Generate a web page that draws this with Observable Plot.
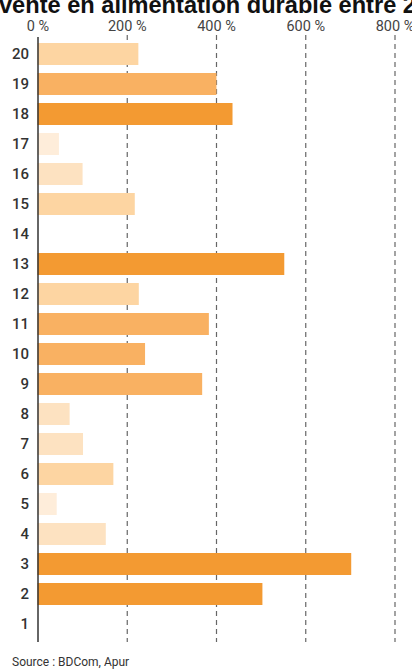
<!DOCTYPE html>
<html>
<head>
<meta charset="utf-8">
<script src="https://cdn.jsdelivr.net/npm/d3@7"></script>
<script src="https://cdn.jsdelivr.net/npm/@observablehq/plot@0.6"></script>
<style>
  html, body { margin: 0; padding: 0; background: #fff; width: 412px; height: 669px; overflow: hidden; position: relative; }
  #title { position: absolute; top: -5px; left: 0; white-space: nowrap; font-family: "Liberation Sans", Arial, sans-serif; font-weight: bold; font-size: 23.6px; color: #111; line-height: 20px; }
  #chart { position: absolute; top: 0; left: 0; }
  #source { position: absolute; top: 656px; left: 12px; font-family: Roboto, "Noto Sans", sans-serif; font-size: 12px; color: #333; line-height: 13px; }
</style>
</head>
<body>
<div id="title"><span id="tpre">Évolution du nombre de points de </span><span id="tmain">vente en alimentation durable entre 2010 et 2017</span></div>
<div id="chart"></div>
<div id="source">Source : BDCom, Apur</div>
<script>
// Arrondissements (1 to 20)
const arrondissements = ["1","2","3","4","5","6","7","8","9","10","11","12","13","14","15","16","17","18","19","20"];
// Évolution (%) per arrondissement
const evolution = [0, 504, 703, 153, 43, 170, 102, 72, 369, 241, 384, 227, 553, 0, 218, 101, 48, 437, 401, 226];
// Colour class per arrondissement (1 = palest … 5 = darkest)
const classe = [1, 5, 5, 2, 1, 3, 2, 2, 4, 4, 4, 3, 5, 1, 3, 2, 1, 5, 4, 3];
const classColors = ["#FEEDDA", "#FDE2C1", "#FDD5A2", "#F9B162", "#F39A32"];
const xTicks = [0, 200, 400, 600, 800];
const gridTicks = [200, 400, 600, 800];

const data = arrondissements.map((a, i) => ({arr: a, value: evolution[i], classe: classe[i]}));

const plot = Plot.plot({
  width: 412,
  height: 645,
  marginLeft: 37.5,
  marginRight: 17.5,
  marginTop: 39,
  marginBottom: 5,
  style: {fontFamily: "Roboto, 'Noto Sans', sans-serif", background: "transparent"},
  x: {domain: [0, 800], ticks: xTicks, axis: null, label: null},
  y: {domain: arrondissements.slice().reverse(), paddingInner: 0.26, paddingOuter: 0.13, axis: null, label: null},
  color: {type: "ordinal", domain: [1, 2, 3, 4, 5], range: classColors},
  marks: [
    Plot.ruleX(gridTicks, {stroke: "#666", strokeWidth: 1.2, strokeDasharray: "5,4", insetTop: -4, insetBottom: -2}),
    Plot.barX(data, {x: "value", y: "arr", fill: d => d.classe}),
    Plot.ruleX([0], {stroke: "#333", strokeWidth: 1.5, insetTop: -2, insetBottom: -2}),
    Plot.axisX({anchor: "top", ticks: xTicks, tickSize: 0, tickPadding: 9, tickFormat: d => d + " %", fontSize: 14.5, fill: "#444", label: null}),
    Plot.axisY({anchor: "left", tickSize: 0, tickPadding: 9, fontSize: 15, fontWeight: 500, fill: "#333", label: null})
  ]
});
document.getElementById("chart").appendChild(plot);

// shift the title so that the visible part starts at the left edge, as in the reference
const pre = document.getElementById("tpre").getBoundingClientRect().width;
document.getElementById("title").style.left = (-pre - 1) + "px";
</script>
</body>
</html>
